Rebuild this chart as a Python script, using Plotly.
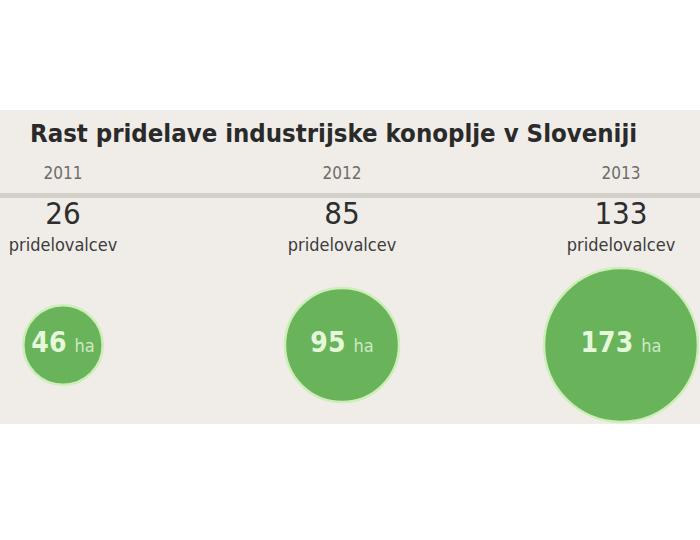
import plotly.graph_objects as go

years = ["2011", "2012", "2013"]
growers = [26, 85, 133]
hectares = [46, 95, 173]
title = "Rast pridelave industrijske konoplje v Sloveniji"
grower_label = "pridelovalcev"
unit = "ha"

BG = "#f0ede8"
GREEN = "#69b45b"
FONT = "DejaVu Sans Condensed"

idx = list(range(len(years)))

fig = go.Figure()

# year labels
fig.add_trace(go.Scatter(
    x=idx, y=[175] * 3, mode="text", text=years,
    textfont=dict(family=FONT, size=17, color="#6e6c69"),
    hoverinfo="skip"))

# grower counts
fig.add_trace(go.Scatter(
    x=idx, y=[216] * 3, mode="text", text=[str(g) for g in growers],
    textfont=dict(family=FONT, size=31, color="#2e2e2e"),
    hoverinfo="skip"))

fig.add_trace(go.Scatter(
    x=idx, y=[246] * 3, mode="text", text=[grower_label] * 3,
    textfont=dict(family=FONT, size=18, color="#3c3c3c"),
    hoverinfo="skip"))

# bubbles (area proportional to hectares)
fig.add_trace(go.Scatter(
    x=idx, y=[345] * 3, mode="markers+text",
    marker=dict(size=hectares, sizemode="area", sizeref=0.0146, opacity=1,
                color=GREEN, line=dict(color="#cdeeb8", width=2.5)),
    text=[f"<b>{h}</b> <span style='font-size:18px;color:#cfe8c2'>{unit}</span>" for h in hectares],
    textposition="middle center",
    textfont=dict(family=FONT, size=28, color="#e6f8da"),
    hoverinfo="skip"))

fig.add_annotation(
    x=28 / 700, y=133, xref="paper", yref="y", xanchor="left", yanchor="middle",
    text=f"<b>{title}</b>", showarrow=False,
    font=dict(family=FONT, size=25.5, color="#2a2a2a"))

fig.update_layout(
    width=700, height=540,
    margin=dict(l=0, r=0, t=0, b=0),
    paper_bgcolor="white", plot_bgcolor="white",
    showlegend=False,
    xaxis=dict(range=[-63 / 279, -63 / 279 + 700 / 279], visible=False, fixedrange=True),
    yaxis=dict(range=[540, 0], visible=False, fixedrange=True),
    shapes=[
        dict(type="rect", xref="paper", yref="y", x0=0, x1=1, y0=110, y1=424,
             fillcolor=BG, line=dict(width=0), layer="below"),
        dict(type="rect", xref="paper", yref="y", x0=0, x1=1, y0=193, y1=198,
             fillcolor="#d3d0ca", line=dict(width=0), layer="below"),
    ],
)

fig.write_html("out.html")
